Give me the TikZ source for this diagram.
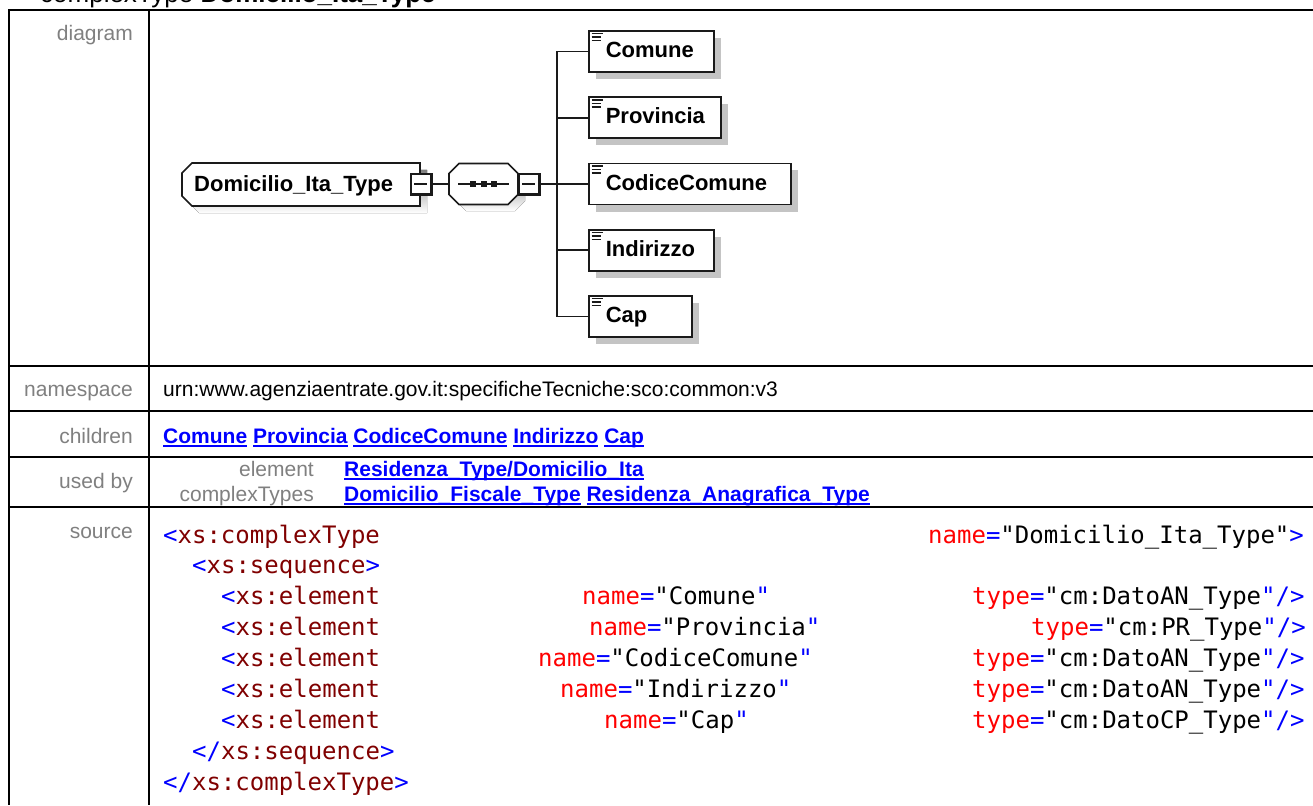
\documentclass[tikz,border=0pt]{standalone}
\usepackage{fontspec}
\setmainfont{Liberation Sans}
\setmonofont{DejaVu Sans Mono}
\usetikzlibrary{shadows}
\definecolor{lblgray}{HTML}{808080}
\definecolor{lnkblue}{HTML}{0000FF}
\definecolor{xtag}{HTML}{800000}
\definecolor{xattr}{HTML}{FF0000}
\definecolor{xblue}{HTML}{0000FF}
\definecolor{shade}{HTML}{C4C4C4}
\definecolor{boxline}{HTML}{1A1A1A}
\newcommand\lnk[1]{\setbox0=\hbox{#1}\rlap{\rule[-3.6pt]{\wd0}{1.7pt}}\box0\relax}
\newcommand\codeB[1]{\textcolor{xblue}{#1}}
\newcommand\codeT[1]{\textcolor{xtag}{#1}}
\newcommand\codeA[1]{\textcolor{xattr}{#1}}
\tikzset{
  dline/.style={line width=1.6pt, draw=boxline},
  tline/.style={line width=2.5pt, draw=black},
  glabel/.style={text=lblgray, anchor=base east, inner sep=0pt, font=\fontsize{21}{25}\selectfont},
  btext/.style={anchor=base west, inner sep=0pt, font=\fontsize{21}{25}\selectfont},
  lnktext/.style={btext, text=lnkblue, font=\fontsize{21}{25}\selectfont\bfseries},
  code/.style={anchor=base west, inner sep=0pt, font=\fontsize{24}{29}\ttfamily},
  elem/.style={draw=boxline, line width=1.6pt, fill=white, anchor=west, minimum height=41pt,
    inner xsep=17pt, inner ysep=0pt, text height=16pt, text depth=4pt, align=left,
    font=\fontsize{22}{26}\selectfont\bfseries,
    general shadow={fill=shade, shadow xshift=7pt, shadow yshift=-7pt}},
  minusbox/.style={draw=boxline, line width=1.4pt, fill=white, minimum width=20pt, minimum height=20pt, inner sep=0pt},
  iconline/.style={line width=1.5pt, draw=boxline},
}
\begin{document}
\begin{tikzpicture}[x=1pt,y=-1pt]
\clip (0,0) rectangle (1313,805);
\fill[white] (0,0) rectangle (1313,805);

% title (cut off at the top, as in the reference)
\node[anchor=base west, inner sep=0pt, font=\fontsize{26}{30}\selectfont] (title) at (40,3) {complexType \textbf{Domicilio\_Ita\_Type}};

% table rules
\draw[tline] (8,10) -- (1313,10);
\draw[tline] (9,10) -- (9,805);
\draw[tline] (149,10) -- (149,805);
\draw[tline] (8,366) -- (1313,366);
\draw[tline] (8,411) -- (1313,411);
\draw[tline] (8,457) -- (1313,457);
\draw[tline] (8,507) -- (1313,507);

% row labels
\node[glabel] (ldiag) at (133,41) {diagram};
\node[glabel] (lns) at (133,396) {namespace};
\node[glabel] (lch) at (133,443) {children};
\node[glabel] (lub) at (133,488) {used by};
\node[glabel] (lsrc) at (133,538) {source};

% namespace / children / used by
\node[btext] (ns) at (163,396) {urn:www.agenziaentrate.gov.it:specificheTecniche:sco:common:v3};
\node[lnktext] (kids) at (163,443) {\lnk{Comune} \lnk{Provincia} \lnk{CodiceComune} \lnk{Indirizzo} \lnk{Cap}};
\node[glabel] (lel) at (314,476) {element};
\node[glabel] (lct) at (314,501) {complexTypes};
\node[lnktext] (ub1) at (344,476) {\lnk{Residenza\_Type/Domicilio\_Ita}};
\node[lnktext] (ub2) at (344,501) {\lnk{Domicilio\_Fiscale\_Type} \lnk{Residenza\_Anagrafica\_Type}};

% source code
\node[code] (s1a) at (163,543) {\codeB{<}\codeT{xs:complexType}};
\node[code] (s1b) at (928,543) {\codeA{name}\codeB{=}"Domicilio\_Ita\_Type"\codeB{>}};
\node[code] (s2) at (192,573.9) {\codeB{<}\codeT{xs:sequence}\codeB{>}};
\node[code] (s3a) at (221,604.8) {\codeB{<}\codeT{xs:element}};
\node[code] (s3b) at (582,604.8) {\codeA{name}\codeB{=}"Comune\codeB{"}};
\node[code] (s3c) at (972,604.8) {\codeA{type}\codeB{=}"cm:DatoAN\_Type\codeB{"/>}};
\node[code] (s4a) at (221,635.7) {\codeB{<}\codeT{xs:element}};
\node[code] (s4b) at (589,635.7) {\codeA{name}\codeB{=}"Provincia\codeB{"}};
\node[code] (s4c) at (1031,635.7) {\codeA{type}\codeB{=}"cm:PR\_Type\codeB{"/>}};
\node[code] (s5a) at (221,666.6) {\codeB{<}\codeT{xs:element}};
\node[code] (s5b) at (538,666.6) {\codeA{name}\codeB{=}"CodiceComune\codeB{"}};
\node[code] (s5c) at (972,666.6) {\codeA{type}\codeB{=}"cm:DatoAN\_Type\codeB{"/>}};
\node[code] (s6a) at (221,697.5) {\codeB{<}\codeT{xs:element}};
\node[code] (s6b) at (560,697.5) {\codeA{name}\codeB{=}"Indirizzo\codeB{"}};
\node[code] (s6c) at (972,697.5) {\codeA{type}\codeB{=}"cm:DatoAN\_Type\codeB{"/>}};
\node[code] (s7a) at (221,728.4) {\codeB{<}\codeT{xs:element}};
\node[code] (s7b) at (604,728.4) {\codeA{name}\codeB{=}"Cap\codeB{"}};
\node[code] (s7c) at (972,728.4) {\codeA{type}\codeB{=}"cm:DatoCP\_Type\codeB{"/>}};
\node[code] (s8) at (192,759.3) {\codeB{</}\codeT{xs:sequence}\codeB{>}};
\node[code] (s9) at (163,790.2) {\codeB{</}\codeT{xs:complexType}\codeB{>}};

% ---------- diagram ----------
% root element (chamfered on the left)
\fill[shade] (199,170) -- (427,170) -- (427,213) -- (199,213) -- (189,203) -- (189,180) -- cycle;
\draw[dline, fill=white] (192,163) -- (420,163) -- (420,206) -- (192,206) -- (182,196) -- (182,173) -- cycle;
\node[anchor=base west, inner sep=0pt, font=\fontsize{22}{26}\selectfont\bfseries] (root) at (194,191.5) {Domicilio\_Ita\_Type};
\node[minusbox] (rootmin) at (421,184) {};
\draw[line width=2.6pt, draw=boxline] (rootmin.north east) -- (rootmin.south east) -- (rootmin.south west);
\draw[line width=1.4pt, draw=boxline] ([xshift=4pt]rootmin.west) -- ([xshift=-5pt]rootmin.east);

% sequence compositor
\node[minimum width=69pt, minimum height=41pt, inner sep=0pt] (seq) at (483.5,184) {};
\fill[shade] (466,170) -- (515,170) -- (525,180) -- (525,201) -- (515,211) -- (466,211) -- (456,201) -- (456,180) -- cycle;
\draw[dline, fill=white] (459,163.5) -- (508,163.5) -- (518,173.5) -- (518,194.5) -- (508,204.5) -- (459,204.5) -- (449,194.5) -- (449,173.5) -- cycle;
\draw[line width=1.5pt, draw=boxline] (458,184) -- (509,184);
\fill[boxline] (470,181) rectangle (476,187);
\fill[boxline] (480.5,181) rectangle (486.5,187);
\fill[boxline] (491,181) rectangle (497,187);
\node[minusbox] (seqmin) at (529,184) {};
\draw[line width=2.6pt, draw=boxline] (seqmin.north east) -- (seqmin.south east) -- (seqmin.south west);
\draw[line width=1.4pt, draw=boxline] ([xshift=4pt]seqmin.west) -- ([xshift=-5pt]seqmin.east);

\draw[dline] (rootmin.east) -- (seq.west);

% child elements
\node[elem, text width=91pt] (comune) at (588,51.5) {Comune};
\node[elem, text width=98pt] (provincia) at (588,117.75) {Provincia};
\node[elem, text width=168pt] (codice) at (588,184) {CodiceComune};
\node[elem, text width=91pt] (indirizzo) at (588,250.25) {Indirizzo};
\node[elem, text width=69pt] (cap) at (588,316.5) {Cap};

\foreach \n in {comune,provincia,codice,indirizzo,cap}{
  \draw[iconline] ([shift={(3.5,3.5)}]\n.north west) -- +(11,0);
  \draw[iconline] ([shift={(3.5,7)}]\n.north west) -- +(9,0);
  \draw[iconline] ([shift={(3.5,10.5)}]\n.north west) -- +(9,0);
}

% connectors
\coordinate (busTop) at (557,51.5);
\coordinate (busBot) at (557,316.5);
\draw[dline] (busTop) -- (busBot);
\draw[dline] (seqmin.east) -- (busTop |- seqmin.east);
\draw[dline] (busTop) -- (comune.west);
\draw[dline] (busTop |- provincia.west) -- (provincia.west);
\draw[dline] (busTop |- codice.west) -- (codice.west);
\draw[dline] (busTop |- indirizzo.west) -- (indirizzo.west);
\draw[dline] (busBot) -- (cap.west);
\end{tikzpicture}
\end{document}
